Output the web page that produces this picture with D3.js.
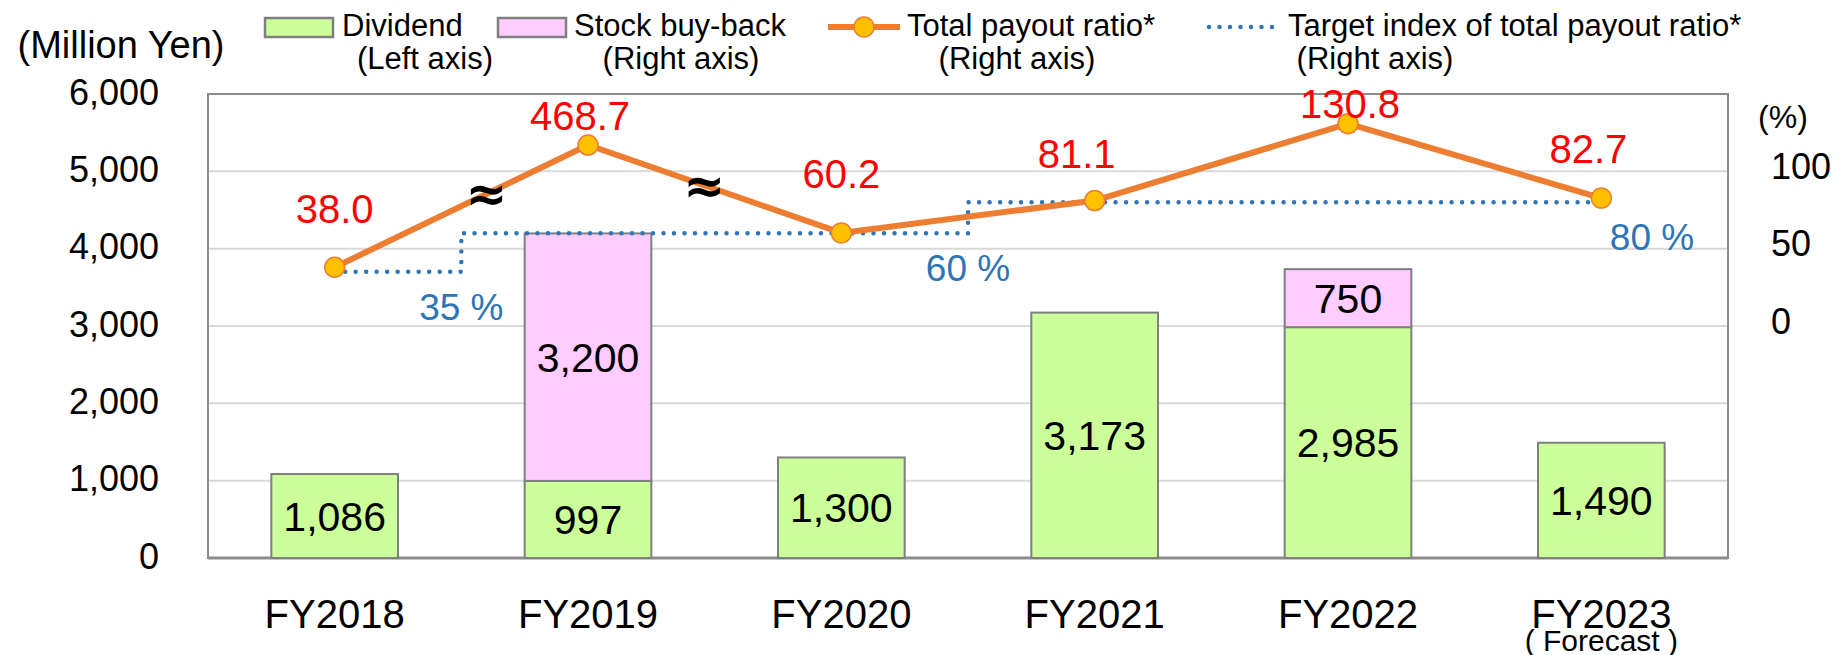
<!DOCTYPE html>
<html>
<head>
<meta charset="utf-8">
<script src="https://cdn.jsdelivr.net/npm/d3@7"></script>
<style>
  body { margin: 0; background: #fff; }
  svg text { font-family: "Liberation Sans", Arial, sans-serif; }
</style>
</head>
<body>
<div id="chart"></div>
<script>
// data
var years = ["FY2018", "FY2019", "FY2020", "FY2021", "FY2022", "FY2023"];
var dividend = [1086, 997, 1300, 3173, 2985, 1490];
var buyback = [0, 3200, 0, 0, 750, 0];
var payoutRatio = [38.0, 468.7, 60.2, 81.1, 130.8, 82.7];
// FY2019 is drawn on a broken axis, at this height
var payoutDrawn = [38.0, 117, 60.2, 81.1, 130.8, 82.7];
var targetRatio = [35, 60, 60, 80, 80, 80];
var targetLabels = ["35 %", "60 %", "80 %"];
var leftTicks = [0, 1000, 2000, 3000, 4000, 5000, 6000];
var rightTicks = [0, 50, 100];

var W = 1843, H = 655;
var m = {left: 208, right: 1728, top: 94, bottom: 558};

var colDiv = "#ccff99", colBuy = "#ffccff", colEdge = "#7f7f7f",
    colLine = "#ed7d31", colMark = "#ffc000", colTarget = "#2e75b6",
    colLabel = "#ff0000";

var svg = d3.select("#chart").append("svg")
    .attr("width", W).attr("height", H);

var x = d3.scaleBand().domain(years).range([m.left, m.right])
    .paddingInner(0.5).paddingOuter(0.25);
var xc = function(i) { return x(years[i]) + x.bandwidth() / 2; };
var y = d3.scaleLinear().domain([0, 6000]).range([m.bottom, m.top]);
var yR = d3.scaleLinear().domain([-150, 150]).range([m.bottom, m.top]);

// gridlines
svg.append("g").selectAll("line")
    .data(leftTicks.filter(function(d) { return d > 0 && d < 6000; }))
    .enter().append("line")
    .attr("x1", m.left).attr("x2", m.right)
    .attr("y1", y).attr("y2", y)
    .style("stroke", "#d9d9d9").style("stroke-width", 2);

// frame
svg.append("rect")
    .attr("x", m.left).attr("y", m.top)
    .attr("width", m.right - m.left).attr("height", m.bottom - m.top)
    .style("fill", "none").style("stroke", "#8c8c8c").style("stroke-width", 2);
svg.append("line")
    .attr("x1", m.left).attr("x2", m.right)
    .attr("y1", m.bottom).attr("y2", m.bottom)
    .style("stroke", "#8c8c8c").style("stroke-width", 3);

// axes
var gl = svg.append("g").attr("transform", "translate(" + m.left + ",0)")
    .call(d3.axisLeft(y).tickValues(leftTicks).tickSize(0).tickPadding(49)
        .tickFormat(d3.format(",")));
gl.select(".domain").remove();
gl.selectAll("text").style("font-size", "36px").style("fill", "#000")
    .attr("dy", "0.28em").style("font-family", "Liberation Sans, Arial, sans-serif");

var gr = svg.append("g").attr("transform", "translate(" + m.right + ",0)")
    .call(d3.axisRight(yR).tickValues(rightTicks).tickSize(0).tickPadding(43));
gr.select(".domain").remove();
gr.selectAll("text").style("font-size", "36px").style("fill", "#000")
    .attr("dy", "0.2em").style("font-family", "Liberation Sans, Arial, sans-serif");

var gx = svg.append("g").attr("transform", "translate(0," + m.bottom + ")")
    .call(d3.axisBottom(x).tickSize(0).tickPadding(42));
gx.select(".domain").remove();
gx.selectAll("text").style("font-size", "40px").style("fill", "#000")
    .style("font-family", "Liberation Sans, Arial, sans-serif");

svg.append("text")
    .attr("x", xc(5)).attr("y", 651)
    .attr("text-anchor", "middle")
    .style("font-size", "30px")
    .text("( Forecast )");

svg.append("text")
    .attr("x", 121).attr("y", 58)
    .attr("text-anchor", "middle")
    .style("font-size", "38px")
    .text("(Million Yen)");
svg.append("text")
    .attr("x", 1783).attr("y", 128)
    .attr("text-anchor", "middle")
    .style("font-size", "32px")
    .text("(%)");

// bars
var rows = years.map(function(yr, i) {
    return {i: i, div: dividend[i], buy: buyback[i]};
});
var bars = svg.append("g");
bars.selectAll(".div")
    .data(rows).enter().append("rect")
    .attr("x", function(d) { return x(years[d.i]); })
    .attr("width", x.bandwidth())
    .attr("y", function(d) { return y(d.div); })
    .attr("height", function(d) { return y(0) - y(d.div); })
    .style("fill", colDiv).style("stroke", colEdge).style("stroke-width", 2);
bars.selectAll(".buy")
    .data(rows.filter(function(d) { return d.buy > 0; })).enter().append("rect")
    .attr("x", function(d) { return x(years[d.i]); })
    .attr("width", x.bandwidth())
    .attr("y", function(d) { return y(d.div + d.buy); })
    .attr("height", function(d) { return y(0) - y(d.buy); })
    .style("fill", colBuy).style("stroke", colEdge).style("stroke-width", 2);

svg.selectAll(".divlab")
    .data(rows).enter().append("text")
    .attr("x", function(d) { return xc(d.i); })
    .attr("y", function(d) { return (y(0) + y(d.div)) / 2; })
    .attr("dy", "0.36em")
    .attr("text-anchor", "middle")
    .style("font-size", "41px")
    .text(function(d) { return d3.format(",")(d.div); });
svg.selectAll(".buylab")
    .data(rows.filter(function(d) { return d.buy > 0; })).enter().append("text")
    .attr("x", function(d) { return xc(d.i); })
    .attr("y", function(d) { return (y(d.div) + y(d.div + d.buy)) / 2; })
    .attr("dy", "0.36em")
    .attr("text-anchor", "middle")
    .style("font-size", "41px")
    .text(function(d) { return d3.format(",")(d.buy); });

// target step line
var targetLine = d3.line()
    .x(function(d, i) { return xc(i); })
    .y(function(d) { return yR(d); })
    .curve(d3.curveStep);
svg.append("path")
    .datum(targetRatio)
    .attr("d", targetLine)
    .style("fill", "none").style("stroke", colTarget)
    .style("stroke-width", 4.5).style("stroke-linecap", "round")
    .style("stroke-dasharray", "0,10.5");

var targetLabelAt = [0.5, 2.5, 5.2];
var targetLabelVal = [35, 60, 80];
svg.selectAll(".tlab")
    .data(targetLabels).enter().append("text")
    .attr("x", function(d, i) {
        var p = targetLabelAt[i], k = Math.floor(p);
        return xc(k) + (p - k) * x.step();
    })
    .attr("y", function(d, i) { return yR(targetLabelVal[i]) + 48; })
    .attr("text-anchor", "middle")
    .style("font-size", "37px")
    .style("fill", colTarget)
    .text(function(d) { return d; });

// payout line
var payoutLine = d3.line()
    .x(function(d, i) { return xc(i); })
    .y(function(d) { return yR(d); });
svg.append("path")
    .datum(payoutDrawn)
    .attr("d", payoutLine)
    .style("fill", "none").style("stroke", colLine).style("stroke-width", 6);

// axis break marks on the two FY2019 segments
var breaks = [[0, 0.6], [1, 0.46]];
svg.selectAll(".brk")
    .data(breaks).enter().append("text")
    .attr("x", function(d) { return xc(d[0]) + d[1] * x.step(); })
    .attr("y", function(d) {
        var a = yR(payoutDrawn[d[0]]), b = yR(payoutDrawn[d[0] + 1]);
        return a + d[1] * (b - a);
    })
    .attr("dy", "0.35em")
    .attr("text-anchor", "middle")
    .style("font-family", "DejaVu Sans, sans-serif")
    .style("font-size", "50px").style("font-weight", "bold")
    .text("\u2248");

svg.selectAll(".mark")
    .data(payoutDrawn).enter().append("circle")
    .attr("cx", function(d, i) { return xc(i); })
    .attr("cy", function(d) { return yR(d); })
    .attr("r", 10)
    .style("fill", colMark).style("stroke", colLine).style("stroke-width", 1.5);

var labelDx = [0, -8, 0, -18, 2, -13];
var labelDy = [-44, -15, -45, -33, -6, -35];
svg.selectAll(".plab")
    .data(payoutRatio).enter().append("text")
    .attr("x", function(d, i) { return xc(i) + labelDx[i]; })
    .attr("y", function(d, i) { return yR(payoutDrawn[i]) + labelDy[i]; })
    .attr("text-anchor", "middle")
    .style("font-size", "40px")
    .style("fill", colLabel)
    .text(d3.format(".1f"));

// legend
var lg = svg.append("g").style("font-size", "31px");
lg.append("rect").attr("x", 265).attr("y", 18).attr("width", 68).attr("height", 19)
    .style("fill", colDiv).style("stroke", colEdge).style("stroke-width", 2.5);
lg.append("rect").attr("x", 498).attr("y", 18).attr("width", 68).attr("height", 19)
    .style("fill", colBuy).style("stroke", colEdge).style("stroke-width", 2.5);
lg.append("line").attr("x1", 828).attr("x2", 900).attr("y1", 27).attr("y2", 27)
    .style("stroke", colLine).style("stroke-width", 6);
lg.append("circle").attr("cx", 864).attr("cy", 27).attr("r", 10)
    .style("fill", colMark).style("stroke", colLine).style("stroke-width", 1.5);
lg.append("line").attr("x1", 1209).attr("x2", 1273).attr("y1", 27).attr("y2", 27)
    .style("stroke", colTarget).style("stroke-width", 4.5)
    .style("stroke-linecap", "round").style("stroke-dasharray", "0,10.5");

var legendText = [
    {t: "Dividend", x: 342, anchor: "start", y: 36},
    {t: "(Left axis)", x: 425, anchor: "middle", y: 69},
    {t: "Stock buy-back", x: 574, anchor: "start", y: 36},
    {t: "(Right axis)", x: 681, anchor: "middle", y: 69},
    {t: "Total payout ratio*", x: 907, anchor: "start", y: 36},
    {t: "(Right axis)", x: 1017, anchor: "middle", y: 69},
    {t: "Target index of total payout ratio*", x: 1288, anchor: "start", y: 36},
    {t: "(Right axis)", x: 1375, anchor: "middle", y: 69}
];
lg.selectAll("text").data(legendText).enter().append("text")
    .attr("x", function(d) { return d.x; })
    .attr("y", function(d) { return d.y; })
    .attr("text-anchor", function(d) { return d.anchor; })
    .text(function(d) { return d.t; });
</script>
</body>
</html>
